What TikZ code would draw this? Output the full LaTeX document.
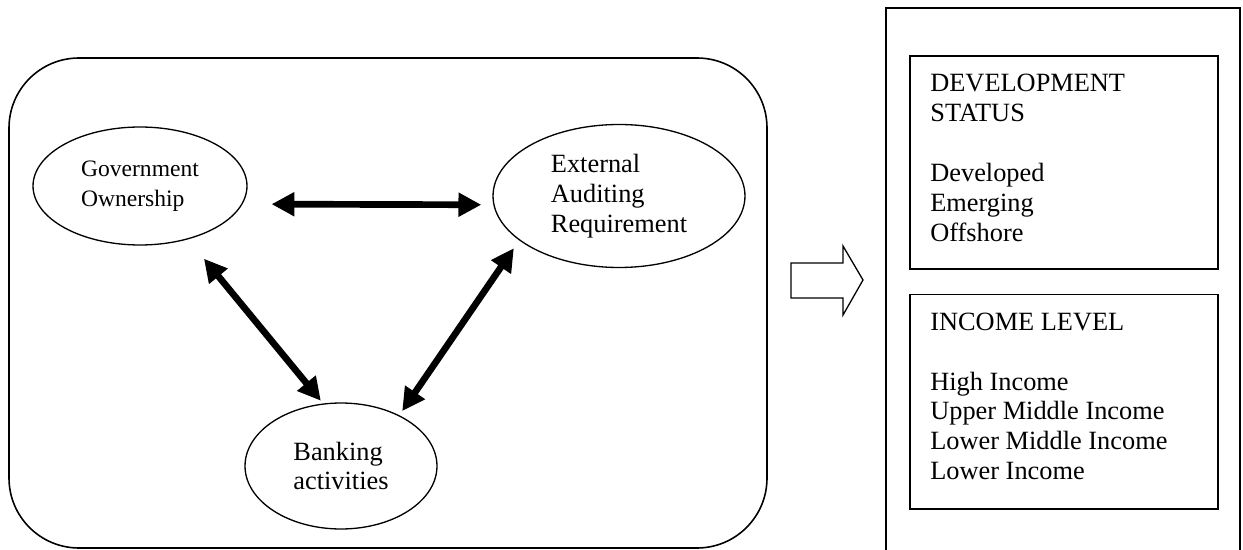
\documentclass[tikz,border=0pt]{standalone}
\usepackage{fontspec}
\setmainfont{Liberation Serif}
\usetikzlibrary{arrows.meta, positioning, shapes.geometric}

\begin{document}
\begin{tikzpicture}[x=0.02cm, y=-0.02cm,
  el/.style={ellipse, draw, line width=0.75pt, inner sep=0pt, align=left, font=\fontsize{15pt}{17pt}\selectfont},
  catbox/.style={draw, line width=0.9pt, minimum width=6.16cm, inner sep=0pt},
  lst/.style={anchor=north west, inner sep=0pt, align=left, font=\fontsize{15pt}{17pt}\selectfont},
  link/.style={{Triangle[length=13pt,width=13pt]}-{Triangle[length=13pt,width=13pt]}, line width=3.8pt}]
  \useasboundingbox (0,0) rectangle (1243,550);
  \draw[line width=0.9pt, rounded corners=1.4cm] (9,58) rectangle (767,548);
  \node[el, minimum width=4.28cm, minimum height=2.36cm, font=\fontsize{13.4pt}{17pt}\selectfont](gov) at (140,186) {Government\\Ownership};
  \node[el, minimum width=5.04cm, minimum height=2.86cm](ext) at (619,196) {External\\Auditing\\Requirement};
  \node[el, minimum width=3.84cm, minimum height=2.52cm](bank) at (341,466) {Banking\\activities};

  \draw[link, shorten <=0.58cm, shorten >=0.24cm](gov.-10.7)--(ext.184.1);
  \draw[link, shorten <=0.5cm, shorten >=0.07cm](gov.-48.8)--(bank.106.5);
  \draw[link, shorten <=0.1cm, shorten >=0.19cm](bank.41)--(ext.204.6);

  \draw[line width=0.75pt, line join=miter] (791,263)--(843,263)--(843,246)--(863,280)--(843,315)--(843,298)--(791,298)--cycle;

  \draw[line width=0.9pt] (886,550)--(886,8)--(1240,8)--(1240,550);
  \node[catbox, minimum height=4.26cm, anchor=north west](dev) at (909,55) {};
  \node[catbox, minimum height=4.3cm, below=0.48cm of dev](inc) {};
  \node[lst, below right=0.38cm and 0.42cm of dev.north west](devtxt) {DEVELOPMENT\\STATUS\\[17pt]Developed\\Emerging\\Offshore};
  \node[lst, below right=0.38cm and 0.42cm of inc.north west](inctxt) {INCOME LEVEL\\[17pt]High Income\\Upper Middle Income\\Lower Middle Income\\Lower Income};
\end{tikzpicture}
\end{document}
